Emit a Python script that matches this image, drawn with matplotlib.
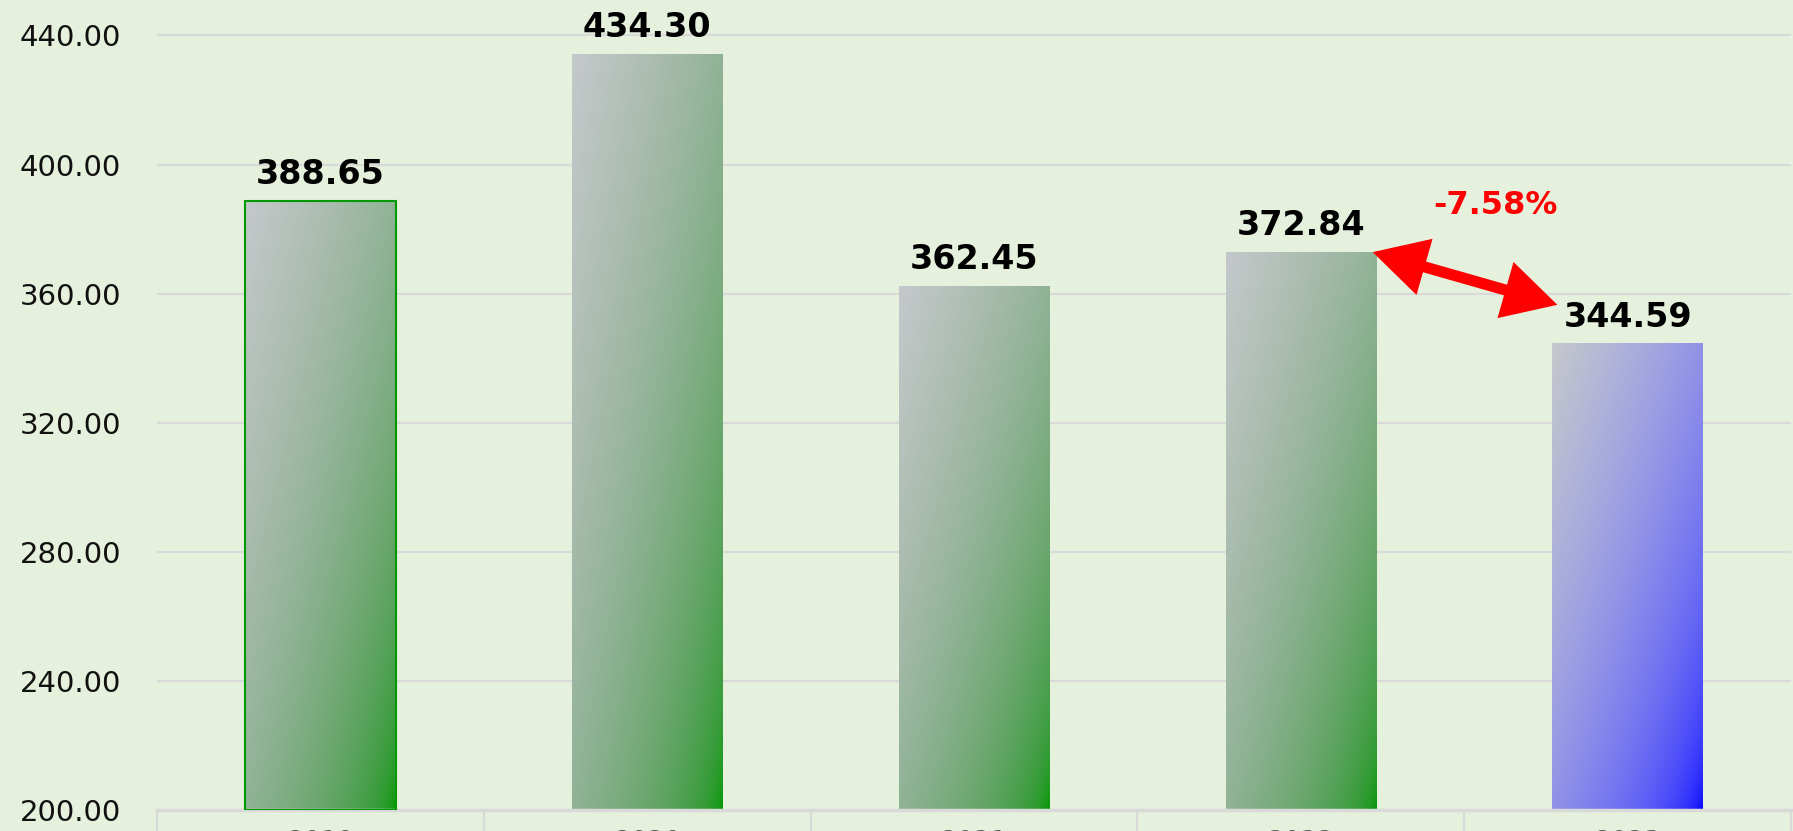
import matplotlib
matplotlib.use("Agg")
import matplotlib.pyplot as plt
import numpy as np

# data
years = ["2019", "2020", "2021", "2022", "2023"]
values = [388.65, 434.30, 362.45, 372.84, 344.59]
change_text = "-7.58%"

bg = "#E5F1DC"
grid_col = "#D9D9D9"
gray = np.array([197, 200, 203]) / 255
green = np.array([0, 153, 0]) / 255
blue = np.array([0, 0, 255]) / 255


def to_lin(c):
    return np.where(c <= 0.04045, c / 12.92, ((c + 0.055) / 1.055) ** 2.4)


def to_srgb(c):
    return np.where(c <= 0.0031308, c * 12.92, 1.055 * np.clip(c, 0, 1) ** (1 / 2.4) - 0.055)


ymin, ymax = 200, 451

fig = plt.figure(figsize=(17.93, 8.31), dpi=100, facecolor=bg)
ax = fig.add_axes([157 / 1793, 21.4 / 831, 1634 / 1793, 809.6 / 831])
ax.set_facecolor(bg)

x = np.arange(len(values))
heights = [v - ymin for v in values]
bars = ax.bar(x, heights, bottom=ymin, width=0.46, facecolor="none",
              edgecolor="none", zorder=3)

# diagonal gradient inside each bar (blended in linear light)
n = 300
u = np.linspace(0, 1, n)[None, :]
v = np.linspace(0, 1, n)[:, None]
t = (u + v) / 2
for i, rect in enumerate(bars):
    end = blue if i == len(bars) - 1 else green
    lin = (1 - t)[..., None] * to_lin(gray) + t[..., None] * to_lin(end)
    img = np.clip(to_srgb(lin), 0, 1)
    x0, y0 = rect.get_x(), rect.get_y()
    w, h = rect.get_width(), rect.get_height()
    im = ax.imshow(img, extent=(x0, x0 + w, y0, y0 + h), origin="upper",
                   aspect="auto", interpolation="bilinear", zorder=2)
    im.set_clip_path(rect)

bars[0].set_edgecolor("#009900")
bars[0].set_linewidth(1.5)

# value labels
for xi, val in zip(x, values):
    ax.annotate(f"{val:.2f}", (xi, val), xytext=(0, 7), textcoords="offset points",
                ha="center", va="bottom", fontsize=24, fontweight="bold",
                color="black")

# change arrow between the last two bars
ax.annotate("", xy=(3.785, 356.5), xytext=(3.22, 372.84),
            arrowprops=dict(arrowstyle="<|-|>,head_length=1.2,head_width=0.65",
                            color="red", lw=8, shrinkA=0, shrinkB=0,
                            mutation_scale=22, joinstyle="miter",
                            capstyle="butt"), zorder=5)
ax.text(3.597, 387.2, change_text, color="red", fontsize=23, fontweight="bold",
        ha="center", va="center")

ax.set_xlim(-0.5, len(values) - 0.5)
ax.set_ylim(ymin, ymax)
ax.set_yticks(np.arange(200, 441, 40))
ax.set_yticklabels([f"{y:.2f}" for y in np.arange(200, 441, 40)])
ax.tick_params(axis="y", length=0, pad=26, labelsize=21, colors="#111111")

ax.set_xticks(x)
ax.set_xticklabels(years)
ax.tick_params(axis="x", which="major", length=0, pad=14.5, labelsize=19,
               labelcolor="#595959")
ax.set_xticks(np.arange(-0.5, len(values)), minor=True)
ax.tick_params(axis="x", which="minor", length=20, width=1.5, color=grid_col,
               direction="out")

ax.grid(axis="y", color=grid_col, linewidth=1.5, zorder=0)
ax.set_axisbelow(True)
for side in ["left", "right", "top"]:
    ax.spines[side].set_visible(False)
ax.spines["bottom"].set_color(grid_col)
ax.spines["bottom"].set_linewidth(2.5)

fig.savefig("out.png", dpi=100, facecolor=bg)
